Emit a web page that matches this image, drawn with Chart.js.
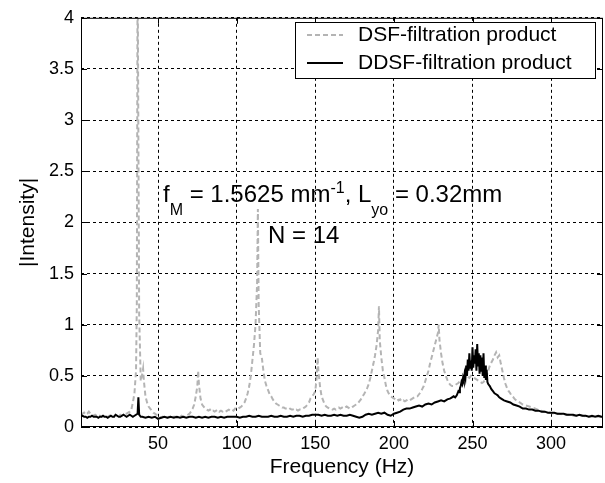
<!DOCTYPE html>
<html>
<head>
<meta charset="utf-8">
<script src="https://cdn.jsdelivr.net/npm/chart.js@4.4.1/dist/chart.umd.min.js"></script>
<style>
html, body { margin: 0; padding: 0; background: #fff; }
</style>
</head>
<body>
<canvas id="spectrum" width="605" height="483"></canvas>
<script>
// tick values on the axes
var xTicks = [50, 100, 150, 200, 250, 300];
var yTicks = [0, 0.5, 1, 1.5, 2, 2.5, 3, 3.5, 4];

// DSF-filtration product (grey dashed)
var dsfFreq = [
  1,2,3,4,5,6,7,8,9,10,
  11,12,13,14,15,16,17,18,19,20,
  21,22,23,24,25,26,27,28,29,30,
  31,32,33,34,35,36,36.5,37,37.5,38,
  39,40,40.5,41,42,43,44,45,46,47,
  48,49,50,51,52,53,54,55,56,57,
  58,59,60,61,62,63,64,65,66,67,
  68,69,70,71,72,73,74,75,75.5,76,
  77,78,79,80,81,82,83,84,85,86,
  87,88,89,90,91,92,93,94,95,96,
  97,98,99,100,101,102,103,104,105,106,
  107,108,109,110,111,112,113,113.5,114,115,
  116,117,118,119,120,121,122,123,124,125,
  126,127,128,129,130,131,132,133,134,135,
  136,137,138,139,140,141,142,143,144,145,
  146,147,148,149,150,151,151.5,152,153,154,
  155,156,157,158,159,160,161,162,163,164,
  165,166,167,168,169,170,171,172,173,174,
  175,176,177,178,179,180,181,182,183,184,
  185,186,187,188,189,190,190.5,191,192,193,
  194,195,196,197,198,199,200,201,202,203,
  204,205,206,207,208,209,210,211,212,213,
  214,215,216,217,218,219,220,221,222,223,
  224,225,226,227,228,228.5,229,230,231,232,
  233,234,235,236,237,238,239,240,241,242,
  243,244,245,246,247,248,249,250,251,252,
  253,254,255,256,257,258,259,260,261,262,
  263,264,265,266,267,268,269,270,271,272,
  273,274,275,276,277,278,279,280,282,284,
  286,288,290,293,296,299,302,305,308,311,
  314,317,320,323,326,329,333
];
var dsfVal = [
  0.12,0.13,0.14,0.12,0.13,0.15,0.13,0.12,0.11,0.12,
  0.11,0.10,0.11,0.10,0.10,0.11,0.10,0.10,0.11,0.10,
  0.11,0.10,0.12,0.11,0.10,0.12,0.11,0.12,0.13,0.13,
  0.14,0.15,0.17,0.24,0.33,0.55,1.20,4.60,2.80,1.10,
  0.45,0.52,0.57,0.45,0.30,0.24,0.20,0.18,0.16,0.14,
  0.13,0.12,0.12,0.10,0.09,0.10,0.09,0.10,0.09,0.10,
  0.10,0.09,0.10,0.10,0.09,0.10,0.10,0.11,0.10,0.10,
  0.11,0.12,0.13,0.15,0.18,0.22,0.30,0.40,0.55,0.42,
  0.28,0.22,0.20,0.18,0.17,0.16,0.17,0.15,0.16,0.15,
  0.16,0.17,0.15,0.16,0.15,0.16,0.15,0.16,0.17,0.16,
  0.17,0.16,0.18,0.17,0.18,0.19,0.20,0.22,0.24,0.28,
  0.33,0.40,0.50,0.65,0.80,1.00,1.40,2.13,1.20,0.72,
  0.68,0.55,0.45,0.40,0.36,0.32,0.30,0.27,0.25,0.23,
  0.22,0.21,0.20,0.19,0.19,0.18,0.18,0.17,0.18,0.17,
  0.17,0.16,0.17,0.16,0.17,0.17,0.18,0.19,0.20,0.22,
  0.24,0.28,0.30,0.32,0.35,0.50,0.68,0.55,0.40,0.30,
  0.26,0.22,0.20,0.19,0.18,0.18,0.17,0.18,0.17,0.18,
  0.19,0.18,0.19,0.20,0.19,0.20,0.19,0.18,0.19,0.20,
  0.21,0.22,0.23,0.25,0.27,0.30,0.32,0.35,0.38,0.42,
  0.48,0.55,0.62,0.70,0.80,0.95,1.18,0.85,0.68,0.55,
  0.48,0.40,0.35,0.32,0.30,0.29,0.28,0.27,0.28,0.26,
  0.27,0.25,0.26,0.25,0.26,0.27,0.26,0.27,0.28,0.29,
  0.30,0.30,0.32,0.34,0.37,0.40,0.45,0.50,0.55,0.62,
  0.68,0.74,0.80,0.86,0.92,1.00,0.85,0.72,0.62,0.55,
  0.50,0.46,0.43,0.41,0.40,0.40,0.41,0.42,0.43,0.45,
  0.46,0.47,0.48,0.50,0.49,0.48,0.50,0.49,0.48,0.47,
  0.46,0.45,0.44,0.43,0.44,0.46,0.50,0.55,0.60,0.63,
  0.66,0.70,0.73,0.68,0.70,0.62,0.55,0.48,0.42,0.38,
  0.35,0.33,0.30,0.29,0.27,0.26,0.25,0.24,0.22,0.21,
  0.20,0.19,0.18,0.16,0.15,0.14,0.13,0.13,0.12,0.12,
  0.11,0.11,0.11,0.10,0.10,0.10,0.10
];

// DDSF-filtration product (black solid)
var ddsfFreq = [
  1,2,3,4,5,6,7,8,9,10,
  11,12,13,14,15,16,17,18,19,20,
  21,22,23,24,25,26,27,28,29,30,
  31,32,33,34,35,36,37,37.5,38,39,
  40,42,44,46,48,50,52,54,56,58,
  60,62,64,66,68,70,72,74,76,78,
  80,82,84,86,88,90,92,94,96,98,
  100,102,104,106,108,110,112,114,116,118,
  120,122,124,126,128,130,132,134,136,138,
  140,142,144,146,148,150,152,154,156,158,
  160,162,164,166,168,170,172,174,176,178,
  180,182,184,186,188,190,192,194,196,198,
  200,202,204,206,208,210,212,214,216,218,
  220,222,224,226,228,230,232,234,236,238,
  239,240,240.5,241,241.5,242,242.5,243,243.5,244,
  244.5,245,245.5,246,246.5,247,247.5,248,248.5,249,
  249.5,250,250.5,251,251.5,252,252.5,253,253.5,254,
  254.5,255,255.5,256,256.5,257,257.5,258,258.5,259,
  259.5,260,261,262,263,264,265,266,267,268,
  269,270,272,274,276,278,280,282,284,286,
  288,290,292,294,296,298,300,302,304,306,
  308,310,312,314,316,318,320,322,324,326,
  328,330,332,333
];
var ddsfVal = [
  0.10,0.11,0.10,0.10,0.09,0.10,0.10,0.11,0.10,0.10,
  0.10,0.09,0.10,0.10,0.11,0.10,0.10,0.09,0.10,0.11,
  0.10,0.10,0.12,0.11,0.10,0.10,0.11,0.12,0.11,0.10,
  0.11,0.12,0.11,0.10,0.11,0.12,0.13,0.29,0.12,0.10,
  0.10,0.09,0.10,0.09,0.10,0.08,0.09,0.10,0.09,0.10,
  0.09,0.10,0.09,0.10,0.09,0.10,0.10,0.09,0.10,0.09,
  0.10,0.09,0.10,0.10,0.09,0.10,0.09,0.10,0.10,0.10,
  0.10,0.09,0.10,0.10,0.11,0.10,0.10,0.11,0.10,0.10,
  0.10,0.11,0.10,0.10,0.11,0.10,0.10,0.11,0.10,0.11,
  0.11,0.10,0.11,0.11,0.12,0.12,0.12,0.11,0.12,0.11,
  0.11,0.12,0.11,0.12,0.11,0.11,0.12,0.11,0.10,0.09,
  0.10,0.12,0.13,0.12,0.13,0.14,0.13,0.14,0.12,0.11,
  0.13,0.14,0.15,0.17,0.18,0.18,0.19,0.20,0.21,0.20,
  0.22,0.23,0.22,0.24,0.25,0.26,0.25,0.27,0.28,0.30,
  0.29,0.31,0.33,0.35,0.34,0.38,0.40,0.44,0.42,0.48,
  0.45,0.52,0.48,0.60,0.50,0.66,0.55,0.72,0.58,0.65,
  0.55,0.78,0.58,0.70,0.62,0.76,0.55,0.81,0.60,0.72,
  0.52,0.70,0.55,0.68,0.50,0.72,0.48,0.60,0.46,0.56,
  0.44,0.42,0.40,0.37,0.35,0.33,0.32,0.31,0.29,0.28,
  0.27,0.26,0.25,0.24,0.22,0.21,0.20,0.18,0.18,0.17,
  0.17,0.16,0.16,0.15,0.15,0.14,0.14,0.14,0.13,0.13,
  0.13,0.12,0.12,0.12,0.11,0.12,0.11,0.11,0.10,0.11,
  0.10,0.11,0.10,0.10
];

var FONT = "'Liberation Sans', Arial, Helvetica, sans-serif";
var GREY = '#b4b4b4';

function toPoints(xs, ys) {
  var pts = [];
  for (var i = 0; i < xs.length; i++) pts.push({x: xs[i], y: ys[i]});
  return pts;
}

// frame, inner tick marks, legend box and the text note
var matlabLook = {
  id: 'matlabLook',
  afterDraw: function(chart) {
    var ctx = chart.ctx, a = chart.chartArea;
    var xs = chart.scales.x, ys = chart.scales.y;
    ctx.save();
    ctx.strokeStyle = '#000';
    ctx.lineWidth = 1;
    ctx.setLineDash([]);
    ctx.strokeRect(a.left + 0.5, a.top + 0.5, a.right - a.left - 1, a.bottom - a.top - 1);
    ctx.beginPath();
    xTicks.forEach(function(v) {
      var px = Math.round(xs.getPixelForValue(v)) + 0.5;
      ctx.moveTo(px, a.bottom); ctx.lineTo(px, a.bottom - 6);
      ctx.moveTo(px, a.top); ctx.lineTo(px, a.top + 6);
    });
    yTicks.forEach(function(v) {
      var py = Math.round(ys.getPixelForValue(v)) + 0.5;
      ctx.moveTo(a.left, py); ctx.lineTo(a.left + 6, py);
      ctx.moveTo(a.right, py); ctx.lineTo(a.right - 6, py);
    });
    ctx.stroke();

    // legend
    ctx.fillStyle = '#fff';
    ctx.fillRect(295, 22, 300, 56);
    ctx.strokeRect(295.5, 22.5, 300, 56);
    ctx.lineWidth = 2;
    ctx.strokeStyle = GREY;
    ctx.setLineDash([5, 3]);
    ctx.beginPath(); ctx.moveTo(307, 35); ctx.lineTo(343, 35); ctx.stroke();
    ctx.strokeStyle = '#000';
    ctx.setLineDash([]);
    ctx.beginPath(); ctx.moveTo(307, 63); ctx.lineTo(343, 63); ctx.stroke();
    ctx.fillStyle = '#000';
    ctx.font = '21px ' + FONT;
    ctx.textBaseline = 'middle';
    ctx.textAlign = 'left';
    ctx.fillText('DSF-filtration product', 358, 35);
    ctx.fillText('DDSF-filtration product', 358, 63);

    // annotation with sub/superscripts
    ctx.textBaseline = 'alphabetic';
    var parts = [['f', 0], ['M', 1], [' = 1.5625 mm', 0], ['-1', 2], [', L', 0], ['yo', 1], [' = 0.32mm', 0]];
    var x = 163;
    parts.forEach(function(p) {
      ctx.font = (p[1] ? '16px ' : '24px ') + FONT;
      var y = p[1] === 1 ? 215 : (p[1] === 2 ? 193 : 202);
      ctx.fillText(p[0], x, y);
      x += ctx.measureText(p[0]).width;
    });
    ctx.font = '24px ' + FONT;
    ctx.fillText('N = 14', 268, 243);
    ctx.restore();
  }
};

new Chart(document.getElementById('spectrum'), {
  type: 'line',
  data: {
    datasets: [{
      label: 'DSF-filtration product',
      data: toPoints(dsfFreq, dsfVal),
      borderColor: GREY,
      borderWidth: 2,
      borderDash: [5, 3],
      pointRadius: 0,
      tension: 0,
      order: 2
    }, {
      label: 'DDSF-filtration product',
      data: toPoints(ddsfFreq, ddsfVal),
      borderColor: '#000',
      borderWidth: 2,
      pointRadius: 0,
      tension: 0,
      order: 1
    }]
  },
  options: {
    responsive: false,
    animation: false,
    layout: { padding: { top: 14, right: 2, left: 0, bottom: 0 } },
    plugins: { legend: { display: false }, tooltip: { enabled: false } },
    scales: {
      x: {
        type: 'linear',
        min: 1,
        max: 333,
        afterBuildTicks: function(s) { s.ticks = xTicks.map(function(v) { return {value: v}; }); },
        afterFit: function(s) { s.height = 56; },
        grid: { color: '#000', lineWidth: 1, drawTicks: false },
        border: { display: false, dash: [3, 3] },
        ticks: { color: '#000', font: { family: FONT, size: 18 }, padding: 6, maxRotation: 0,
                 callback: function(v) { return String(v); } },
        title: { display: true, text: 'Frequency (Hz)', color: '#000', font: { family: FONT, size: 21 }, padding: { top: 0, bottom: 3 } }
      },
      y: {
        min: 0,
        max: 4,
        afterBuildTicks: function(s) { s.ticks = yTicks.map(function(v) { return {value: v}; }); },
        afterFit: function(s) { s.width = 81; },
        grid: { color: '#000', lineWidth: 1, drawTicks: false },
        border: { display: false, dash: [3, 3] },
        ticks: { color: '#000', font: { family: FONT, size: 18 }, padding: 7,
                 callback: function(v) { return String(v); } },
        title: { display: true, text: '|Intensity|', color: '#000', font: { family: FONT, size: 21 }, padding: { top: 16, bottom: 0 } }
      }
    }
  },
  plugins: [matlabLook]
});
</script>
</body>
</html>
